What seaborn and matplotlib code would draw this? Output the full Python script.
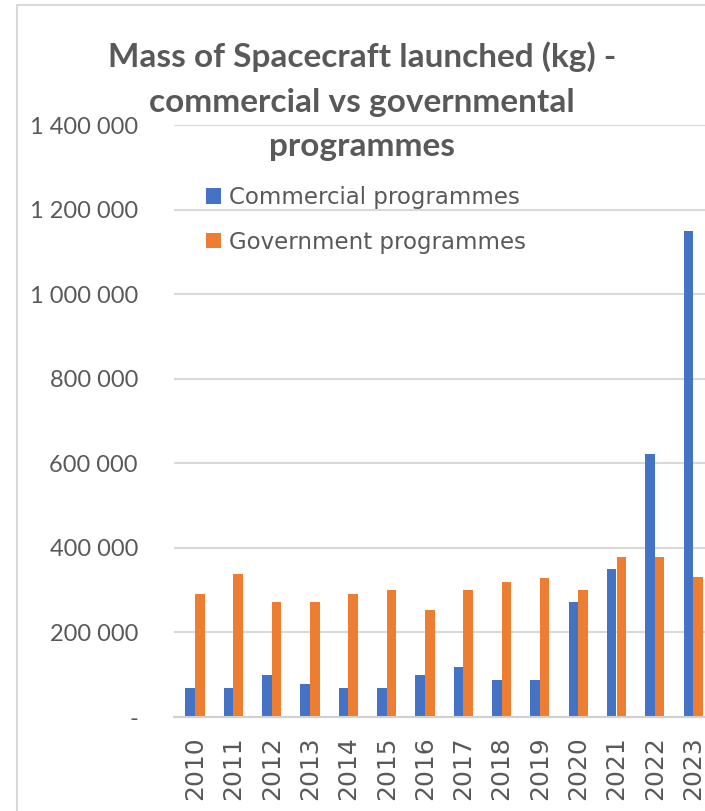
import numpy as np
import pandas as pd
import matplotlib
matplotlib.use("Agg")
import matplotlib.pyplot as plt
from matplotlib.lines import Line2D
from matplotlib.ticker import FuncFormatter
import seaborn as sns

# Datos
anios = ["2010", "2011", "2012", "2013", "2014", "2015", "2016",
         "2017", "2018", "2019", "2020", "2021", "2022", "2023"]
comercial = [68000, 68000, 99000, 78000, 68000, 68000, 99000,
             118000, 87000, 87000, 272000, 350000, 623000, 1150000]
gobierno = [292000, 339000, 271000, 271000, 292000, 301000, 252000,
            301000, 320000, 329000, 301000, 378000, 378000, 330000]
series = ["Commercial programmes", "Government programmes"]
y_ticks = [0, 200000, 400000, 600000, 800000, 1000000, 1200000, 1400000]
titulo = ["Mass of Spacecraft launched (kg) -",
          "commercial vs governmental",
          "programmes"]

df = pd.DataFrame({
    "anio": anios * 2,
    "masa": comercial + gobierno,
    "programa": [series[0]] * len(anios) + [series[1]] * len(anios),
})

sns.set_style("white")
plt.rcParams["font.family"] = ["Lato", "DejaVu Sans"]

W, H = 705, 811
fig = plt.figure(figsize=(W / 100, H / 100), dpi=100)
ax = fig.add_axes([174 / W, 94 / H, (W - 174) / W, 592 / H])

sns.barplot(data=df, x="anio", y="masa", hue="programa", ax=ax,
            palette=["#4472C4", "#ED7D31"], width=0.5, saturation=1,
            edgecolor="none", linewidth=0)

ax.set_xlim(-0.55, 13.31)
ax.set_ylim(0, 1400000)
ax.set_yticks(y_ticks)
ax.yaxis.set_major_formatter(FuncFormatter(
    lambda v, p: "-" if v == 0 else f"{int(v):,}".replace(",", " ")))
ax.grid(axis="y", color="#d9d9d9", linewidth=1.5)
ax.set_axisbelow(True)
for s in ["top", "right", "left"]:
    ax.spines[s].set_visible(False)
ax.spines["bottom"].set_color("#d0d0d0")
ax.spines["bottom"].set_linewidth(1.5)
ax.set_xlabel("")
ax.set_ylabel("")

ax.tick_params(axis="y", length=0, pad=26, labelsize=17, labelcolor="#595959")
ax.tick_params(axis="x", length=0, pad=14, labelsize=18, labelcolor="#595959")
for lbl in ax.get_xticklabels():
    lbl.set_rotation(90)
    lbl.set_family("DejaVu Sans")

# Leyenda
handles, labels = ax.get_legend_handles_labels()
ax.legend(handles, labels, loc="upper left", bbox_to_anchor=(206 / W, 1 - 186 / H),
          bbox_transform=fig.transFigure, frameon=False,
          handlelength=0.65, handleheight=0.65, handletextpad=0.35,
          labelspacing=0.95, borderaxespad=0, borderpad=0,
          prop={"family": "DejaVu Sans", "size": 16.5}, labelcolor="#595959")

# Título, una línea por texto
for linea, y_base in zip(titulo, [67, 112, 156]):
    fig.text(362 / W, 1 - y_base / H, linea, ha="center", va="baseline",
             fontsize=24, fontweight="bold", color="#595959")

# Borde del área del gráfico
fig.add_artist(Line2D([17 / W, 17 / W], [0, 1 - 5 / H], transform=fig.transFigure,
                      color="#d9d9d9", linewidth=1.5))
fig.add_artist(Line2D([17 / W, 1], [1 - 5 / H, 1 - 5 / H], transform=fig.transFigure,
                      color="#d9d9d9", linewidth=1.5))

fig.savefig("out.png", dpi=100, facecolor="white")
